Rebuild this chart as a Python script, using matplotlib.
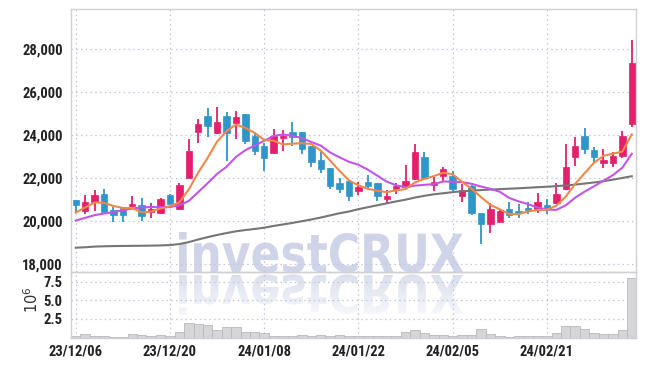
import matplotlib
matplotlib.use("Agg")
import matplotlib.pyplot as plt
import matplotlib.font_manager as fm
import matplotlib.transforms as mtrans
from matplotlib.textpath import TextPath
from matplotlib.patches import PathPatch
from matplotlib.font_manager import FontProperties
import numpy as np

# ---------------- data ----------------
dates = ["23/12/06", "23/12/07", "23/12/08", "23/12/11", "23/12/12", "23/12/13", "23/12/14", "23/12/15",
         "23/12/18", "23/12/19", "23/12/20", "23/12/21", "23/12/22", "23/12/26", "23/12/27", "23/12/28",
         "24/01/02", "24/01/03", "24/01/04", "24/01/05", "24/01/08", "24/01/09", "24/01/10", "24/01/11",
         "24/01/12", "24/01/15", "24/01/16", "24/01/17", "24/01/18", "24/01/19", "24/01/22", "24/01/23",
         "24/01/24", "24/01/25", "24/01/26", "24/01/29", "24/01/30", "24/01/31", "24/02/01", "24/02/02",
         "24/02/05", "24/02/06", "24/02/07", "24/02/08", "24/02/13", "24/02/14", "24/02/15", "24/02/16",
         "24/02/19", "24/02/20", "24/02/21", "24/02/22", "24/02/23", "24/02/26", "24/02/27", "24/02/28",
         "24/02/29", "24/03/04", "24/03/05", "24/03/06"]

open_ = [20977, 20480, 20900, 21255, 20500, 20600, 20700, 20730, 20430, 20390,
         21240, 20545, 22030, 24150, 24880, 24106, 24880, 24545, 24960, 23950,
         23490, 23180, 23875, 24125, 24125, 23490, 22840, 22480, 21767, 21860,
         21410, 21800, 21753, 21010, 21474, 21595, 21939, 22962, 21674, 22107,
         22092, 21177, 21628, 20403, 19893, 19967, 20558, 20480, 20605, 20558,
         20730, 20823, 21488, 22990, 23953, 23302, 22711, 22711, 23037, 24510]
high = [20990, 21240, 21440, 21490, 20640, 20660, 21180, 21080, 20850, 21100,
        21260, 21780, 23800, 24730, 25240, 25315, 25080, 25115, 24965, 24080,
        23615, 24265, 24230, 24590, 24130, 23490, 23195, 22480, 21985, 21860,
        21828, 22170, 21760, 21441, 21781, 22604, 23567, 23195, 22062, 22497,
        22325, 21706, 21700, 20403, 20853, 20590, 20870, 20806, 20898, 21288,
        21055, 21753, 23581, 23920, 24310, 23427, 23348, 23195, 24199, 28416]
low = [20432, 20358, 20480, 20430, 19967, 19967, 20572, 20000, 20172, 20358,
       20820, 20510, 21985, 23640, 23920, 24030, 22800, 23800, 23567, 23055,
       22340, 23100, 23255, 23500, 23100, 22500, 22245, 21475, 21316, 20944,
       21195, 21520, 20944, 20853, 21255, 21520, 21920, 21950, 21395, 21876,
       21395, 20870, 20280, 18963, 19456, 19967, 20172, 20172, 20325, 20403,
       20358, 20790, 21441, 22557, 23102, 22636, 22450, 22497, 22916, 24385]
close = [20758, 20870, 21210, 20430, 20280, 20280, 20820, 20250, 20590, 21010,
         20820, 21705, 23255, 24510, 24430, 24590, 24110, 24820, 23735, 23255,
         22945, 23950, 23950, 23920, 23360, 22760, 22420, 21630, 21490, 21177,
         21595, 21628, 21177, 21162, 21628, 21860, 23195, 21985, 21814, 22418,
         21488, 21441, 20386, 19893, 20590, 20465, 20311, 20403, 20511, 20884,
         20558, 21255, 22497, 23488, 23362, 22990, 22837, 23023, 23953, 27361]
ma5 = [20400, 20640, 20870, 20850, 20710, 20614, 20604, 20412, 20444, 20590,
       20698, 20875, 21476, 22260, 22944, 23698, 24179, 24492, 24337, 24102,
       23773, 23741, 23567, 23604, 23625, 23588, 23282, 22818, 22332, 21895,
       21662, 21504, 21413, 21348, 21438, 21491, 21804, 21966, 22096, 22254,
       22180, 21829, 21509, 21125, 20760, 20555, 20329, 20332, 20456, 20515,
       20533, 20722, 21141, 21736, 22232, 22718, 23035, 23140, 23233, 24033]
ma10 = [20030, 20155, 20279, 20358, 20419, 20512, 20590, 20637, 20660, 20650,
        20656, 20740, 20944, 21352, 21767, 22198, 22527, 22984, 23299, 23523,
        23736, 23960, 24030, 23971, 23864, 23681, 23512, 23193, 22968, 22760,
        22625, 22393, 22116, 21840, 21667, 21577, 21654, 21690, 21722, 21846,
        21836, 21817, 21738, 21611, 21507, 21368, 21079, 20921, 20791, 20637,
        20544, 20526, 20737, 21096, 21373, 21626, 21879, 22141, 22485, 23132]
ma60 = [18770, 18790, 18820, 18835, 18845, 18850, 18855, 18860, 18865, 18875,
        18890, 18940, 19030, 19150, 19260, 19360, 19450, 19530, 19590, 19640,
        19700, 19780, 19850, 19920, 20000, 20080, 20170, 20270, 20370, 20450,
        20560, 20650, 20740, 20830, 20920, 21000, 21100, 21180, 21250, 21300,
        21350, 21390, 21420, 21445, 21470, 21490, 21510, 21530, 21555, 21580,
        21600, 21630, 21660, 21700, 21750, 21800, 21860, 21930, 22010, 22090]
volume_m = [0.20, 0.42, 0.25, 0.25, 0.08, 0.12, 0.45, 0.28, 0.15, 0.28,
            0.15, 0.72, 1.96, 1.82, 1.68, 1.01, 1.40, 1.40, 0.80, 0.72,
            0.60, 0.26, 0.24, 0.24, 0.34, 0.22, 0.28, 0.24, 0.40, 0.26,
            0.16, 0.16, 0.16, 0.26, 0.26, 0.70, 1.00, 0.58, 0.34, 0.34,
            0.26, 0.30, 0.30, 1.12, 0.54, 0.24, 0.10, 0.16, 0.24, 0.24,
            0.24, 0.58, 1.62, 1.62, 1.12, 0.56, 0.43, 0.43, 0.98, 8.02]
tick_dates = ["23/12/06", "23/12/20", "24/01/08", "24/01/22", "24/02/05", "24/02/21"]
price_ticks = [18000, 20000, 22000, 24000, 26000, 28000]
volume_ticks = [2.5, 5.0, 7.5]
watermark = "investCRUX"

# ---------------- fonts ----------------
names = {f.name for f in fm.fontManager.ttflist}
label_family = "DejaVu Sans"
label_stretch = "normal"
for cand in ["Roboto Condensed", "Liberation Sans Narrow", "Open Sans Condensed"]:
    if cand in names:
        label_family = cand
        break
else:
    label_stretch = "condensed"
lab_font = dict(family=label_family, stretch=label_stretch, weight="bold", size=10.5)

# ---------------- figure ----------------
W, H = 645, 366
fig = plt.figure(figsize=(W / 100, H / 100), dpi=100)
fig.patch.set_facecolor("white")

L, R, T, B_main, B_vol = 71, 636, 9, 272, 337.5
ax = fig.add_axes([L / W, 1 - B_main / H, (R - L) / W, (B_main - T) / H])
axv = fig.add_axes([L / W, 1 - B_vol / H, (R - L) / W, (B_vol - B_main) / H], sharex=ax)

UP = "#e41f6c"
DOWN = "#2f96c9"
GRID = "#c3c6da"
SPINE = "#cfcfd4"

x = np.arange(len(close))
o = np.array(open_); c = np.array(close); h = np.array(high); l = np.array(low)
up = c >= o
cols = [UP if u else DOWN for u in up]

for a in (ax, axv):
    a.set_facecolor("none")
    for s in a.spines.values():
        s.set_color(SPINE)
        s.set_linewidth(1.0)
    a.grid(True, color=GRID, linestyle=(0, (1.2, 2.6)), linewidth=0.9)
    a.set_axisbelow(True)
    a.tick_params(length=0, colors="#222222")

# wicks
ax.vlines(x, l, h, colors=cols, linewidth=1.3, zorder=2)
# bodies
bottoms = np.minimum(o, c)
heights = np.maximum(np.abs(c - o), 40)
ax.bar(x, heights, bottom=bottoms, width=0.68, color=cols, edgecolor=cols, linewidth=0.5, zorder=3)

# moving averages
ax.plot(x, ma60, color="#767676", linewidth=1.5, zorder=4)
ax.plot(x, ma10, color="#c255ea", linewidth=1.5, zorder=4)
ax.plot(x, ma5, color="#f0884a", linewidth=1.5, zorder=4)

ax.set_ylim(17640, 29860)
ax.set_xlim(-0.5, 59.45)
ax.set_yticks(price_ticks)
ax.set_yticklabels([f"{v:,}" for v in price_ticks], **lab_font)
ax.tick_params(axis="y", pad=6)
plt.setp(ax.get_xticklabels(), visible=False)

# volume
axv.bar(x, volume_m, width=1.0, color="#d6d6d9", edgecolor="#b9b9bd", linewidth=0.6, zorder=2)
axv.set_ylim(0, 8.85)
axv.set_yticks(volume_ticks)
axv.set_yticklabels([f"{v:.1f}" for v in volume_ticks], **lab_font)
axv.tick_params(axis="y", pad=6)
tpos = [dates.index(d) for d in tick_dates]
axv.set_xticks(tpos)
axv.set_xticklabels(tick_dates, **lab_font)
axv.tick_params(axis="x", pad=5)
fig.text(32 / W, 1 - 300 / H, r"$10^6$", rotation=90, ha="center", va="center",
         fontsize=10.5, color="#333333")

# watermark (with fading reflection), drawn on a background overlay axes
bg = fig.add_axes([0, 0, 1, 1], zorder=-1)
bg.set_xlim(0, W); bg.set_ylim(0, H); bg.axis("off")
bg.patch.set_visible(False)

fp = FontProperties(family="DejaVu Sans", weight="bold")
tp = TextPath((0, 0), watermark, size=100, prop=fp)
ext = tp.get_extents()
x0w, x1w = 179, 463
top_px, base_px = 232, 272
sx = (x1w - x0w) / ext.width
sy = (base_px - top_px) / ext.y1
tr_main = mtrans.Affine2D().translate(-ext.x0, 0).scale(sx, sy).translate(x0w, H - base_px) + bg.transData
tr_refl = mtrans.Affine2D().translate(-ext.x0, 0).scale(sx, -sy).translate(x0w, H - base_px - 3) + bg.transData
pm = PathPatch(tp, transform=tr_main, facecolor="#cfd4e9", edgecolor="none")
bg.add_patch(pm)
pr = PathPatch(tp, transform=tr_refl, facecolor="none", edgecolor="none")
bg.add_patch(pr)
# vertical gradient for the reflection
y_top, y_bot = H - base_px - 3, H - base_px - 3 - (base_px - top_px)
grad = np.linspace(0, 1, 64)[:, None]
c_top = np.array([0.86, 0.875, 0.93])
c_bot = np.array([0.97, 0.975, 0.99])
img = c_top[None, None, :] * (1 - grad[:, :, None]) + c_bot[None, None, :] * grad[:, :, None]
im = bg.imshow(img, extent=(x0w - 2, x1w + 2, y_bot - 2, y_top + 1), origin="upper",
               aspect="auto", interpolation="bilinear")
im.set_clip_path(pr)

fig.savefig("out.png", dpi=100, facecolor="white")
